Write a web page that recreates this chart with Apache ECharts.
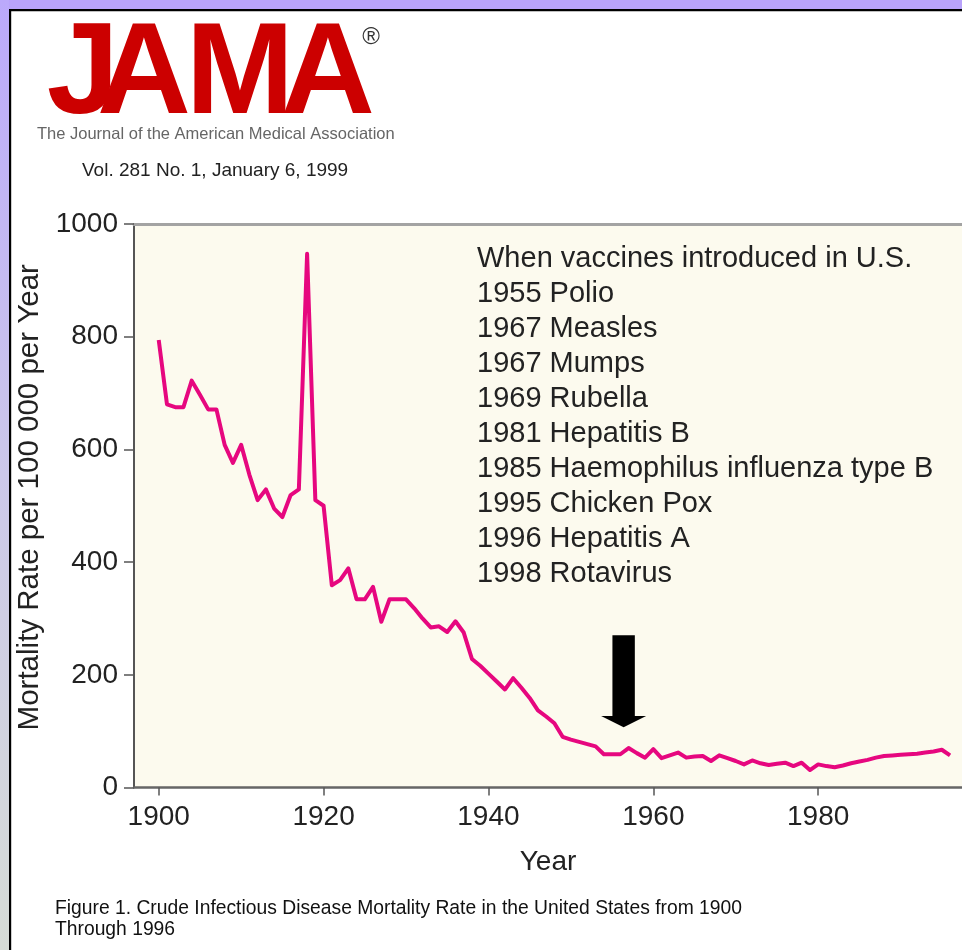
<!DOCTYPE html>
<html><head><meta charset="utf-8">
<script src="https://cdn.jsdelivr.net/npm/echarts@6/dist/echarts.min.js"></script>
<style>html,body{margin:0;padding:0;background:#fff}#chart{width:962px;height:950px}</style>
</head><body><div id="chart"></div>
<script>
// ---- data ----
const YEARS = [1900,1901,1902,1903,1904,1905,1906,1907,1908,1909,
  1910,1911,1912,1913,1914,1915,1916,1917,1918,1919,
  1920,1921,1922,1923,1924,1925,1926,1927,1928,1929,
  1930,1931,1932,1933,1934,1935,1936,1937,1938,1939,
  1940,1941,1942,1943,1944,1945,1946,1947,1948,1949,
  1950,1951,1952,1953,1954,1955,1956,1957,1958,1959,
  1960,1961,1962,1963,1964,1965,1966,1967,1968,1969,
  1970,1971,1972,1973,1974,1975,1976,1977,1978,1979,
  1980,1981,1982,1983,1984,1985,1986,1987,1988,1989,
  1990,1991,1992,1993,1994,1995,1996];
const RATES = [794,680,675,675,722,697,671,671,608,576,
  608,555,510,529,495,480,519,529,947,510,
  500,359,368,389,334,334,356,294,334,334,
  334,318,300,284,286,276,295,275,228,216,
  202,188,174,194,177,159,137,126,114,90,
  85,81,77,73,59,59,59,70,61,53,
  68,52,57,62,53,55,56,47,57,52,
  47,41,48,43,40,42,44,38,44,31,
  41,38,36,39,43,46,49,53,56,57,
  58,59,60,62,64,67,57];
const X_TICKS = [1900,1920,1940,1960,1980];
const Y_TICKS = [0,200,400,600,800,1000];
const NOTE_TITLE = 'When vaccines introduced in U.S.';
const VACCINES = ['1955 Polio','1967 Measles','1967 Mumps','1969 Rubella','1981 Hepatitis B',
  '1985 Haemophilus influenza type B','1995 Chicken Pox','1996 Hepatitis A','1998 Rotavirus'];
// arrow annotation (data coordinates): year, top of shaft, base of head, tip
const ARROW = {year: 1956.4, top: 270, headBase: 127, tip: 107};

const FONT = '"Liberation Sans", Arial, Helvetica, sans-serif';
const chart = echarts.init(document.getElementById('chart'), null, {renderer: 'canvas'});

const lineData = YEARS.map((y, i) => [y, RATES[i]]);
const LOGO_FONT = 'bold 130px ' + FONT;

const graphics = [
  {type: 'rect', shape: {x: 0, y: 0, width: 962, height: 9}, style: {fill: '#b9a3fb'}, silent: true},
  {type: 'rect', shape: {x: 0, y: 0, width: 9, height: 950}, silent: true,
    style: {fill: new echarts.graphic.LinearGradient(0, 0, 0, 1, [
      {offset: 0, color: '#bba9fb'}, {offset: 0.5, color: '#ccc8ea'}, {offset: 1, color: '#d6dcd6'}])}},
  {type: 'rect', shape: {x: 9, y: 9, width: 953, height: 2.2}, style: {fill: '#000'}, silent: true},
  {type: 'rect', shape: {x: 9, y: 9, width: 2.2, height: 941}, style: {fill: '#000'}, silent: true},
  // JAMA logo
  {type: 'text', x: 83, y: 77, style: {text: 'J', font: LOGO_FONT, fill: '#cc0000', align: 'center', verticalAlign: 'middle'}},
  {type: 'text', x: 144, y: 77, style: {text: 'A', font: LOGO_FONT, fill: '#cc0000', align: 'center', verticalAlign: 'middle'}},
  {type: 'text', x: 240, y: 77, style: {text: 'M', font: LOGO_FONT, fill: '#cc0000', align: 'center', verticalAlign: 'middle'}},
  {type: 'text', x: 328, y: 77, style: {text: 'A', font: LOGO_FONT, fill: '#cc0000', align: 'center', verticalAlign: 'middle'}},
  {type: 'text', x: 371, y: 37, style: {text: '®', font: '24px ' + FONT, fill: '#333', align: 'center', verticalAlign: 'middle'}},
  {type: 'text', x: 37, y: 134, style: {text: 'The Journal of the American Medical Association', font: '16.5px ' + FONT, fill: '#666', align: 'left', verticalAlign: 'middle'}},
  {type: 'text', x: 82, y: 171, style: {text: 'Vol. 281 No. 1, January 6, 1999', font: '19px ' + FONT, fill: '#222', align: 'left', verticalAlign: 'middle'}},
  // vaccines note
  {type: 'text', x: 477, y: 241, style: {text: [NOTE_TITLE].concat(VACCINES).join('\n'), font: '29px ' + FONT, lineHeight: 35, fill: '#222', align: 'left', verticalAlign: 'top'}},
  // caption
  {type: 'text', x: 55, y: 898.5, style: {text: 'Figure 1. Crude Infectious Disease Mortality Rate in the United States from 1900\nThrough 1996', font: '19.3px ' + FONT, lineHeight: 21, fill: '#111', align: 'left', verticalAlign: 'top'}}
];

const option = {
  backgroundColor: '#fff',
  animation: false,
  grid: {left: 134, right: 0, top: 224, bottom: 162.5, show: true, backgroundColor: '#fcfaee', borderWidth: 0},
  xAxis: [{
    type: 'value', min: 1897, max: 1997.45, position: 'bottom',
    name: 'Year', nameLocation: 'middle', nameGap: 75,
    nameTextStyle: {fontFamily: FONT, fontSize: 28, color: '#222', verticalAlign: 'middle'},
    axisLine: {show: true, onZero: false, lineStyle: {color: '#666', width: 2.5}},
    axisTick: {show: true, length: 8, customValues: X_TICKS, lineStyle: {color: '#555', width: 1.5}},
    axisLabel: {customValues: X_TICKS, margin: 16, fontFamily: FONT, fontSize: 28, color: '#222',
      formatter: v => String(v)},
    splitLine: {show: false}
  }, {
    type: 'value', min: 1897, max: 1997.45, position: 'top',
    axisLine: {show: true, onZero: false, lineStyle: {color: '#a3a3a3', width: 3}},
    axisTick: {show: false}, axisLabel: {show: false}, splitLine: {show: false}
  }],
  yAxis: {
    type: 'value', min: 0, max: 1000, interval: 200,
    name: 'Mortality Rate per 100 000 per Year', nameLocation: 'middle', nameGap: 86,
    nameTextStyle: {fontFamily: FONT, fontSize: 29.5, color: '#222', padding: [0, 0, 0, 17]},
    axisLine: {show: true, lineStyle: {color: '#555', width: 2}},
    axisTick: {show: true, length: 10, lineStyle: {color: '#555', width: 1.5}},
    axisLabel: {margin: 16, fontFamily: FONT, fontSize: 28, color: '#222',
      formatter: v => Y_TICKS.indexOf(v) >= 0 ? String(v) : ''},
    splitLine: {show: false}
  },
  series: [{
    type: 'line', data: lineData, showSymbol: false, smooth: false,
    lineStyle: {color: '#e6077f', width: 4, join: 'round'}, z: 3
  }, {
    type: 'custom', data: [[ARROW.year, ARROW.top, ARROW.headBase, ARROW.tip]], z: 4,
    renderItem: function (params, api) {
      const top = api.coord([api.value(0), api.value(1)]);
      const base = api.coord([api.value(0), api.value(2)]);
      const tip = api.coord([api.value(0), api.value(3)]);
      const sw = 11.2, hw = 22.5, cx = top[0];
      return {type: 'polygon', shape: {points: [
        [cx - sw, top[1]], [cx + sw, top[1]], [cx + sw, base[1]], [cx + hw, base[1]],
        [cx, tip[1]], [cx - hw, base[1]], [cx - sw, base[1]]]},
        style: {fill: '#000'}};
    }
  }],
  graphic: graphics
};
chart.setOption(option);
</script></body></html>
